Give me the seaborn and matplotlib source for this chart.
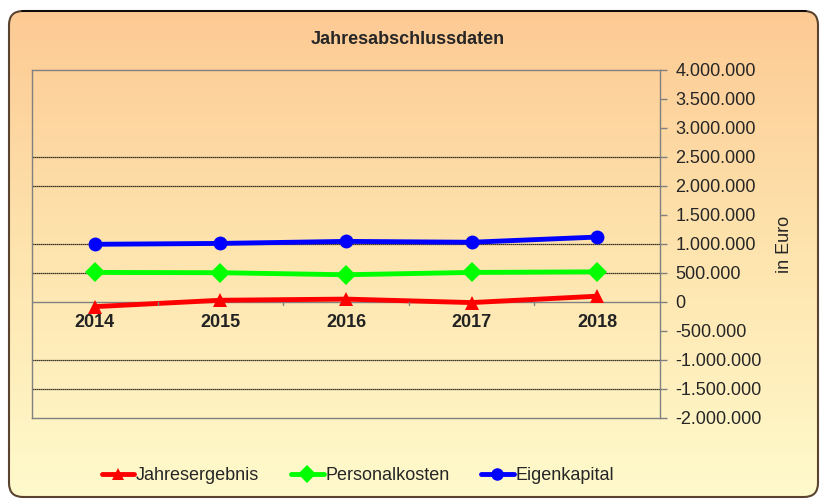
import numpy as np
import pandas as pd
import seaborn as sns
import matplotlib.pyplot as plt
from matplotlib.colors import LinearSegmentedColormap
from matplotlib.patches import FancyBboxPatch
from matplotlib.ticker import FuncFormatter, FixedLocator
from matplotlib.lines import Line2D

# Daten -------------------------------------------------------------------

jahre = ["2014", "2015", "2016", "2017", "2018"]
jahresergebnis = [-80000, 30000, 50000, -10000, 100000]
personalkosten = [510000, 505000, 470000, 510000, 520000]
eigenkapital = [995000, 1010000, 1045000, 1030000, 1120000]

serien = ["Jahresergebnis", "Personalkosten", "Eigenkapital"]
farben = ["#ff0000", "#00ff00", "#0000ff"]
marker = ["^", "D", "o"]

df = pd.DataFrame({"Jahr": jahre,
                   "Jahresergebnis": jahresergebnis,
                   "Personalkosten": personalkosten,
                   "Eigenkapital": eigenkapital})
df_lang = df.melt(id_vars="Jahr", var_name="Reihe", value_name="Wert")
df_lang["pos"] = df_lang.Jahr.map({j: i for i, j in enumerate(jahre)})

# Figur -------------------------------------------------------------------

sns.set_style("white")
plt.rcParams["font.family"] = ["Liberation Sans", "DejaVu Sans"]

fig = plt.figure(figsize=(8.21, 4.99), dpi=100)

# hintergrund mit verlauf
bg = fig.add_axes([0, 0, 1, 1], zorder=-10)
bg.set_xlim(0, 821)
bg.set_ylim(499, 0)
bg.axis("off")
cmap = LinearSegmentedColormap.from_list("bg", ["#fdca94", "#fee4ae", "#fffacc"])
grad = np.linspace(0, 1, 256).reshape(-1, 1)
rahmen = FancyBboxPatch((9, 11), 809, 486, boxstyle="round,pad=0,rounding_size=14",
                        fc="none", ec="#5a4430", lw=1.5)
bg.add_patch(rahmen)
img = bg.imshow(grad, cmap=cmap, extent=[9, 818, 497, 11], aspect="auto")
img.set_clip_path(rahmen)
bg.plot([22, 806], [11, 11], color="black", lw=1.2)

ax = fig.add_axes([32 / 821, 1 - 418 / 499, 628 / 821, 348 / 499])
ax.patch.set_alpha(0)

sns.lineplot(data=df_lang, x="pos", y="Wert", hue="Reihe", style="Reihe",
             hue_order=serien, style_order=serien, palette=farben,
             markers=marker, dashes=False, linewidth=3.5, markersize=10,
             markeredgewidth=0, ax=ax, legend=False)

ax.set_xlim(-0.5, 4.5)
ax.set_ylim(-2000000, 4000000)

# gitterlinien nur an einigen werten
for g in [2500000, 2000000, 1000000, 500000, -1000000, -1500000]:
    ax.axhline(g, color="black", lw=0.9, ls=(0, (1, 0.6)), zorder=0)

for s in ax.spines.values():
    s.set_color("#808080")
    s.set_linewidth(1)

# x-achse auf null
ax.axhline(0, color="#808080", lw=1, zorder=0)
ax.set_xticks(range(len(jahre)))
ax.set_xticklabels([])
for i, j in enumerate(jahre):
    ax.text(i, -360000, j, ha="center", va="center", fontsize=13, fontweight="bold",
            color="#222222")
for t in np.arange(0.5, 4.5, 1.0):
    ax.plot([t, t], [0, -50000], color="#808080", lw=1)
ax.tick_params(axis="x", length=0)
ax.set_xlabel("")

ax.yaxis.tick_right()
ax.yaxis.set_major_locator(FixedLocator(np.arange(-2000000, 4000001, 500000)))
ax.yaxis.set_major_formatter(FuncFormatter(lambda v, p: f"{int(v):,}".replace(",", ".")))
ax.tick_params(axis="y", direction="out", length=5, width=1, color="#808080",
               labelsize=13, pad=6)
ax.yaxis.set_label_position("right")
ax.set_ylabel("in Euro", fontsize=13, rotation=90, labelpad=10)

fig.text(408 / 821, 1 - 40 / 499, "Jahresabschlussdaten", ha="center", va="center",
         fontsize=13, fontweight="bold")

# legende
handles = [Line2D([], [], color=c, marker=m, lw=3.5, markersize=9, markeredgewidth=0)
           for c, m in zip(farben, marker)]
fig.legend(handles, serien, loc="center", bbox_to_anchor=(358 / 821, 1 - 476 / 499),
           ncol=3, frameon=False, fontsize=13, handlelength=1.8, handletextpad=0.1,
           columnspacing=1.75)

plt.savefig("out.png", dpi=100)
